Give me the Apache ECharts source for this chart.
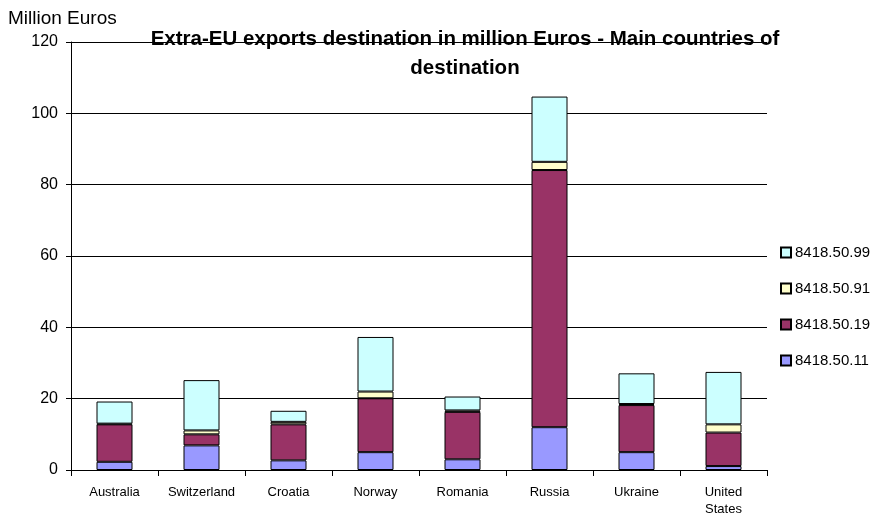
<!DOCTYPE html>
<html><head><meta charset="utf-8">
<script src="https://cdn.jsdelivr.net/npm/echarts@6/dist/echarts.min.js"></script>
<style>html,body{margin:0;padding:0;background:#fff}#c{width:881px;height:516px}</style>
</head><body><div id="c"></div>
<script>
const categories = ['Australia','Switzerland','Croatia','Norway','Romania','Russia','Ukraine','United\nStates'];
const s8418_50_11 = [2.3, 6.9, 2.7, 5.0, 3.0, 12.0, 5.0, 1.1];
const s8418_50_19 = [10.5, 3.1, 10.1, 15.1, 13.3, 72.1, 13.2, 9.4];
const s8418_50_91 = [0.2, 1.1, 0.7, 1.9, 0.4, 2.3, 0.3, 2.3];
const s8418_50_99 = [6.2, 14.1, 3.1, 15.3, 3.9, 18.3, 8.6, 14.7];
const seriesNames = ['8418.50.11','8418.50.19','8418.50.91','8418.50.99'];
const yTicks = [0,20,40,60,80,100,120];
const colors = ['#9999FF','#993366','#FFFFCC','#CCFFFF'];
const values = [s8418_50_11, s8418_50_19, s8418_50_91, s8418_50_99];

const chart = echarts.init(document.getElementById('c'));
const font = 'Liberation Sans, Arial, sans-serif';
chart.setOption({
  animation: false,
  backgroundColor: '#fff',
  title: {
    text: 'Extra-EU exports destination in million Euros - Main countries of\ndestination',
    left: 460, top: 20, textAlign: 'center',
    textStyle: {fontFamily: font, fontSize: 20.5, fontWeight: 'bold', color: '#000', lineHeight: 29}
  },
  graphic: [{
    type: 'text', left: 8, top: 9,
    style: {text: 'Million Euros', fontFamily: font, fontSize: 19, fill: '#000'}
  }],
  legend: {
    orient: 'vertical', left: 775, top: 240, itemGap: 21,
    data: ['8418.50.99','8418.50.91','8418.50.19','8418.50.11'],
    itemWidth: 10, itemHeight: 10, icon: 'rect',
    textStyle: {fontFamily: font, fontSize: 15, color: '#000', padding: [0,0,0,-1]}
  },
  grid: {left: 71, right: 114, top: 42, bottom: 46, outerBoundsMode: 'none', containLabel: false},
  xAxis: {
    type: 'category', data: categories,
    axisLine: {lineStyle: {color: '#000', width: 1}},
    axisTick: {show: true, length: 6, lineStyle: {color: '#000'}},
    axisLabel: {fontFamily: font, fontSize: 13, color: '#000', margin: 14, lineHeight: 17, interval: 0}
  },
  yAxis: {
    type: 'value', min: 0, max: 120, interval: 20,
    axisLine: {show: true, lineStyle: {color: '#000'}},
    axisTick: {show: true, length: 5, lineStyle: {color: '#000'}},
    axisLabel: {fontFamily: font, fontSize: 16, color: '#000', margin: 13,
      formatter: v => yTicks.includes(v) ? String(v) : ''},
    splitLine: {show: true, lineStyle: {color: '#000', width: 1}}
  },
  series: seriesNames.map((n, i) => ({
    name: n, type: 'bar', stack: 'a', data: values[i], barWidth: 36,
    itemStyle: {color: colors[i], borderColor: '#000', borderWidth: 1}
  }))
});
</script></body></html>
